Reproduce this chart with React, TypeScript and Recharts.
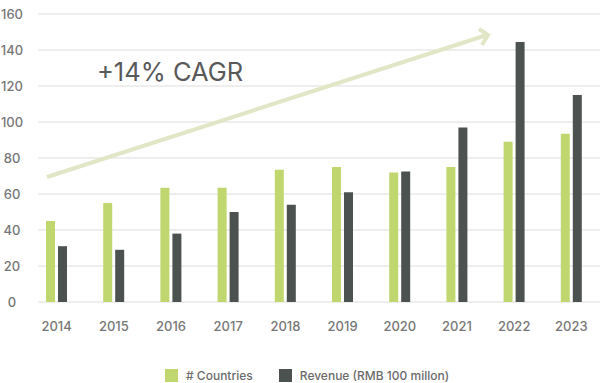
import { BarChart, Bar, XAxis, YAxis, CartesianGrid, Legend } from 'recharts';

const years = ['2014', '2015', '2016', '2017', '2018', '2019', '2020', '2021', '2022', '2023'];
const countries = [45, 55, 63.5, 63.5, 73.5, 75, 72, 75, 89, 93.5];
const revenue = [31, 29, 38, 50, 54, 61, 72.5, 97, 144.5, 115];
const yTicks = [0, 20, 40, 60, 80, 100, 120, 140, 160];

const GREEN = '#c0d66f';
const DARK = '#4c5250';
const FONT = 'Inter, sans-serif';

const data = years.map((year, i) => ({
  year,
  countries: countries[i],
  revenue: revenue[i],
}));

function YTick({ y, payload }: any) {
  return (
    <text x={12} y={y} dy={5} textAnchor="middle" fontSize={13} fontWeight={500} fill="#777" fontFamily={FONT}>
      {payload.value}
    </text>
  );
}

function LegendContent() {
  const item = (color: string, label: string, ml: number) => (
    <div style={{ display: 'flex', alignItems: 'center', marginLeft: ml }}>
      <div style={{ width: 13, height: 13, background: color }} />
      <span style={{ marginLeft: 8, fontSize: 12, color: '#6b6b6b', fontWeight: 500 }}>{label}</span>
    </div>
  );
  return (
    <div style={{ display: 'flex', paddingTop: 30, height: 15, fontFamily: FONT }}>
      {item(GREEN, '# Countries', 165)}
      {item(DARK, 'Revenue (RMB 100 millon)', 26)}
    </div>
  );
}

export default function App() {
  return (
    <div style={{ position: 'absolute', left: 0, top: 0, width: 600, height: 383, background: '#fff' }}>
      <BarChart
        width={600}
        height={383}
        data={data}
        margin={{ top: 14, right: 0, left: 0, bottom: 0 }}
        barSize={9}
        barGap={3}
      >
        <CartesianGrid vertical={false} stroke="#e9e9e9" strokeWidth={1.5} />
        <XAxis
          dataKey="year"
          axisLine={false}
          tickLine={false}
          height={36}
          padding={{ left: -10, right: 0 }}
          tick={{ fontSize: 13, fill: '#777', fontFamily: FONT, fontWeight: 500 }}
          dy={12}
        />
        <YAxis
          width={38}
          domain={[0, 160]}
          ticks={yTicks}
          axisLine={false}
          tickLine={false}
          tick={<YTick />}
        />
        <Legend verticalAlign="bottom" align="left" content={<LegendContent />} wrapperStyle={{ left: 0, width: 600, height: 45 }} />
        <Bar dataKey="countries" name="# Countries" fill={GREEN} isAnimationActive={false} />
        <Bar dataKey="revenue" name="Revenue (RMB 100 millon)" fill={DARK} isAnimationActive={false} />
      </BarChart>
      <svg width={600} height={383} style={{ position: 'absolute', left: 0, top: 0, pointerEvents: 'none' }}>
        <line x1={47} y1={177} x2={487} y2={35} stroke="#e1e7c6" strokeWidth={4} />
        <polyline points="479,29 488,35 482,45" fill="none" stroke="#e1e7c6" strokeWidth={4} />
        <text x={97} y={81} fontSize={25.5} fill="#595959" fontFamily={FONT}>
          +14% CAGR
        </text>
      </svg>
    </div>
  );
}
